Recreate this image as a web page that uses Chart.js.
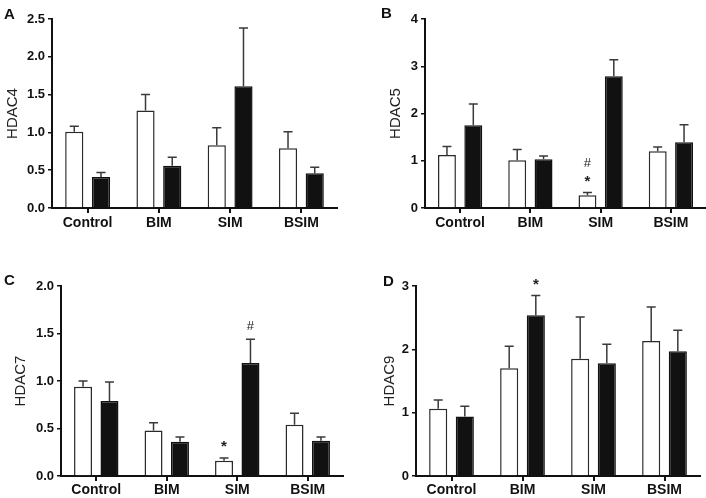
<!DOCTYPE html>
<html>
<head>
<meta charset="utf-8">
<script src="https://cdn.jsdelivr.net/npm/chart.js@4.4.0/dist/chart.umd.min.js"></script>
<style>
  html, body { margin: 0; padding: 0; background: #fff; }
  #wrap { position: relative; width: 706px; height: 498px; overflow: hidden; font-family: 'Liberation Sans', Arial, sans-serif; }
  .panel { position: absolute; width: 353px; height: 249px; }
  .panel canvas { display: block; }
  .tag { position: absolute; font-weight: bold; font-size: 15px; line-height: 1; color: #111; }
</style>
</head>
<body>
<div id="wrap">
  <div class="panel" style="left:0;top:0"><canvas id="chartA" width="353" height="249"></canvas></div>
  <div class="panel" style="left:353px;top:0"><canvas id="chartB" width="353" height="249"></canvas></div>
  <div class="panel" style="left:0;top:249px"><canvas id="chartC" width="353" height="249"></canvas></div>
  <div class="panel" style="left:353px;top:249px"><canvas id="chartD" width="353" height="249"></canvas></div>
  <div class="tag" style="left:4px;top:6px">A</div>
  <div class="tag" style="left:381px;top:5px">B</div>
  <div class="tag" style="left:4px;top:272px">C</div>
  <div class="tag" style="left:383px;top:273px">D</div>
</div>
<script>
const categories = ['Control', 'BIM', 'SIM', 'BSIM'];

// HDAC4 (A)
const hdac4Open = [1.01, 1.29, 0.83, 0.79];
const hdac4OpenErr = [0.07, 0.21, 0.23, 0.22];
const hdac4Filled = [0.41, 0.56, 1.61, 0.46];
const hdac4FilledErr = [0.06, 0.11, 0.77, 0.08];
const hdac4Ticks = ['0.0', '0.5', '1.0', '1.5', '2.0', '2.5'];

// HDAC5 (B)
const hdac5Open = [1.12, 1.01, 0.27, 1.20];
const hdac5OpenErr = [0.18, 0.23, 0.06, 0.09];
const hdac5Filled = [1.75, 1.03, 2.79, 1.39];
const hdac5FilledErr = [0.45, 0.07, 0.35, 0.37];
const hdac5Ticks = ['0', '1', '2', '3', '4'];
const hdac5Marks = [{ series: 0, index: 2, symbols: ['*', '#'] }];

// HDAC7 (C)
const hdac7Open = [0.94, 0.48, 0.16, 0.54];
const hdac7OpenErr = [0.06, 0.08, 0.03, 0.12];
const hdac7Filled = [0.79, 0.36, 1.19, 0.37];
const hdac7FilledErr = [0.20, 0.05, 0.25, 0.04];
const hdac7Ticks = ['0.0', '0.5', '1.0', '1.5', '2.0'];
const hdac7Marks = [{ series: 0, index: 2, symbols: ['*'] }, { series: 1, index: 2, symbols: ['#'] }];

// HDAC9 (D)
const hdac9Open = [1.06, 1.70, 1.85, 2.13];
const hdac9OpenErr = [0.14, 0.35, 0.66, 0.54];
const hdac9Filled = [0.94, 2.54, 1.78, 1.97];
const hdac9FilledErr = [0.16, 0.31, 0.30, 0.33];
const hdac9Ticks = ['0', '1', '2', '3'];
const hdac9Marks = [{ series: 1, index: 1, symbols: ['*'] }];

const FONT = "'Liberation Sans', Arial, sans-serif";

// error bars (upper only) + significance symbols
const errorBars = {
  id: 'errorBars',
  afterDatasetsDraw(chart) {
    const { ctx } = chart;
    const y = chart.scales.y;
    const tops = [];
    chart.data.datasets.forEach((ds, di) => {
      const meta = chart.getDatasetMeta(di);
      tops[di] = [];
      meta.data.forEach((bar, i) => {
        const top = y.getPixelForValue(ds.data[i] + ds.errors[i]);
        tops[di][i] = top;
        const cap = bar.width * 0.5;
        ctx.save();
        ctx.strokeStyle = '#3a3a3a';
        ctx.lineWidth = 1.5;
        ctx.beginPath();
        ctx.moveTo(bar.x, bar.y);
        ctx.lineTo(bar.x, top);
        ctx.moveTo(bar.x - cap / 2, top);
        ctx.lineTo(bar.x + cap / 2, top);
        ctx.stroke();
        ctx.restore();
      });
    });
    const marks = chart.options.plugins.errorBars.marks || [];
    marks.forEach(m => {
      const bar = chart.getDatasetMeta(m.series).data[m.index];
      m.symbols.forEach((s, k) => {
        ctx.save();
        ctx.fillStyle = '#222';
        ctx.font = (s === '*' ? 'bold 15px ' : '13px ') + FONT;
        ctx.textAlign = 'center';
        ctx.textBaseline = 'middle';
        ctx.fillText(s, bar.x, tops[m.series][m.index] - (s === '*' ? 11 : 13) - k * 16);
        ctx.restore();
      });
    });
  }
};

function makePanel(id, p) {
  new Chart(document.getElementById(id), {
    type: 'bar',
    data: {
      labels: categories,
      datasets: [
        {
          data: p.open,
          errors: p.openErr,
          backgroundColor: '#ffffff',
          borderColor: '#2a2a2a',
          borderWidth: 1.5,
          barPercentage: 0.68,
          categoryPercentage: 0.75
        },
        {
          data: p.filled,
          errors: p.filledErr,
          backgroundColor: '#111111',
          borderColor: '#111111',
          borderWidth: 1.5,
          barPercentage: 0.68,
          categoryPercentage: 0.75
        }
      ]
    },
    options: {
      responsive: false,
      animation: false,
      layout: { padding: { left: p.padLeft, top: p.padTop, right: p.padRight, bottom: 0 } },
      plugins: {
        legend: { display: false },
        tooltip: { enabled: false },
        errorBars: { marks: p.marks }
      },
      scales: {
        x: {
          afterFit: (s) => { s.height = p.xHeight; },
          grid: { display: true, drawOnChartArea: false, offset: false, tickLength: 5, color: '#111', lineWidth: 2 },
          border: { display: true, color: '#111', width: 2 },
          ticks: { color: '#111', padding: p.xPad, font: { family: FONT, size: 14, weight: 'bold' } }
        },
        y: {
          min: 0,
          max: Number(p.ticks[p.ticks.length - 1]),
          afterFit: (s) => { s.width = p.yWidth; },
          afterBuildTicks: (s) => { s.ticks = p.ticks.map(t => ({ value: Number(t) })); },
          grid: { display: true, drawOnChartArea: false, tickLength: 4, color: '#111', lineWidth: 1.5 },
          border: { display: true, color: '#111', width: 2 },
          ticks: {
            color: '#111',
            padding: 3,
            font: { family: FONT, size: 13, weight: 'bold' },
            callback: (v) => p.ticks.find(t => Number(t) === v)
          },
          title: {
            display: true,
            text: p.title,
            color: '#222',
            padding: { top: 4, bottom: 0 },
            font: { family: FONT, size: 15, weight: 'normal' }
          }
        }
      }
    },
    plugins: [errorBars]
  });
}

makePanel('chartA', {
  title: 'HDAC4', open: hdac4Open, openErr: hdac4OpenErr, filled: hdac4Filled, filledErr: hdac4FilledErr,
  ticks: hdac4Ticks, marks: [],
  padLeft: 0, yWidth: 52, padTop: 19, padRight: 16, xHeight: 41, xPad: 2
});
makePanel('chartB', {
  title: 'HDAC5', open: hdac5Open, openErr: hdac5OpenErr, filled: hdac5Filled, filledErr: hdac5FilledErr,
  ticks: hdac5Ticks, marks: hdac5Marks,
  padLeft: 30, yWidth: 42, padTop: 19, padRight: 0, xHeight: 41, xPad: 2
});
makePanel('chartC', {
  title: 'HDAC7', open: hdac7Open, openErr: hdac7OpenErr, filled: hdac7Filled, filledErr: hdac7FilledErr,
  ticks: hdac7Ticks, marks: hdac7Marks,
  padLeft: 8, yWidth: 53, padTop: 37, padRight: 10, xHeight: 22, xPad: 1
});
makePanel('chartD', {
  title: 'HDAC9', open: hdac9Open, openErr: hdac9OpenErr, filled: hdac9Filled, filledErr: hdac9FilledErr,
  ticks: hdac9Ticks, marks: hdac9Marks,
  padLeft: 24, yWidth: 39, padTop: 37, padRight: 6, xHeight: 22, xPad: 1
});
</script>
</body>
</html>
